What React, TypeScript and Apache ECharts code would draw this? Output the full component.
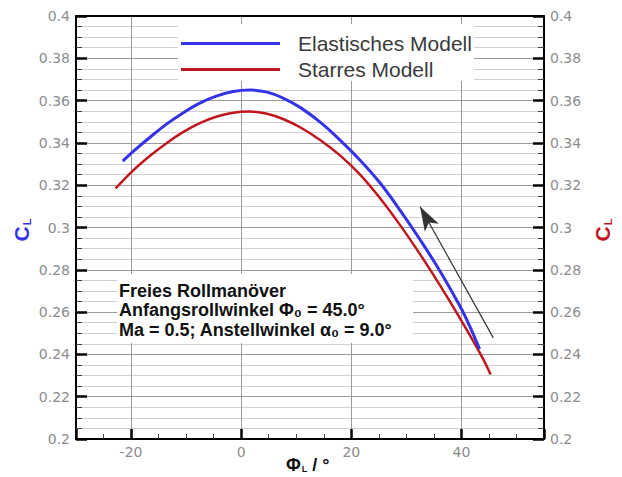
import React, { useEffect, useRef } from 'react';
import * as echarts from 'echarts';

// Roll angle Φ_L (°) and lift coefficient C_L
const phiElastic = [-21.5, -19.6, -16.5, -13.5, -10.5, -7.5, -4.4, -1.45, 1.6, 4.7, 7.6, 10.7, 14.4, 18.0, 21.6, 25.3, 28.9, 32.5, 36.2, 39.8, 41.6, 43.3];
const clElastic = [0.3314, 0.336, 0.3428, 0.349, 0.3543, 0.3588, 0.3622, 0.3643, 0.365, 0.364, 0.3612, 0.3568, 0.3497, 0.3412, 0.3318, 0.3208, 0.308, 0.2942, 0.279, 0.2625, 0.2528, 0.2425];

const phiRigid = [-22.8, -19.6, -16.5, -13.5, -10.5, -7.5, -4.4, -1.45, 1.6, 4.7, 7.6, 10.7, 14.4, 18.0, 21.6, 25.3, 28.9, 32.5, 36.2, 39.8, 43.5, 45.3];
const clRigid = [0.3185, 0.327, 0.334, 0.34, 0.3452, 0.3494, 0.3525, 0.3543, 0.3548, 0.3538, 0.3513, 0.3474, 0.3413, 0.334, 0.325, 0.3136, 0.301, 0.2873, 0.2723, 0.2568, 0.24, 0.2305];

const seriesNames = ['Elastisches Modell', 'Starres Modell'];
const xRange = [-30, 55];
const yRange = [0.2, 0.4];
const yInterval = 0.02;
const arrowFrom = [45.8, 0.2478];
const arrowTo = [32.5, 0.3098];
const noteLines = ['Freies Rollmanöver', 'Anfangsrollwinkel Φ₀ = 45.0°', 'Ma = 0.5; Anstellwinkel α₀ = 9.0°'];

const BLUE = '#3434e6';
const RED = '#c0161e';
const LABEL = { color: '#8c8c8c', fontSize: 14, fontFamily: 'DejaVu Sans' };

const fmtY = (v: number) => String(parseFloat(v.toFixed(3)));

export default function App() {
  const ref = useRef<HTMLDivElement>(null);
  useEffect(() => {
    if (!ref.current) return;
    const chart = echarts.init(ref.current, undefined, { renderer: 'svg' });
    const yAxisBase = {
      type: 'value',
      min: yRange[0],
      max: yRange[1],
      interval: yInterval,
      axisLine: { show: true, onZero: false, lineStyle: { color: '#000', width: 2 } },
      axisTick: { show: true, inside: true, length: 11, lineStyle: { color: '#000', width: 2.5 } },
      minorTick: { show: true, splitNumber: 4, length: 6, lineStyle: { color: '#444', width: 1 } },
      axisLabel: { ...LABEL, margin: 6, formatter: fmtY },
    };
    const cl = (color: string) => ({
      c: { fontSize: 21, fontWeight: 'bold', fontFamily: 'Liberation Sans', fill: color, color },
      l: { fontSize: 11, fontWeight: 'bold', fontFamily: 'Liberation Sans', fill: color, color, padding: [12, 0, 0, 1] },
    });
    const option: any = {
      animation: false,
      grid: { left: 76, right: 78, top: 16, bottom: 38, show: false },
      legend: {
        orient: 'vertical',
        left: 178,
        top: 24,
        padding: [9, 2, 1, 3],
        itemGap: 5,
        itemWidth: 99,
        itemHeight: 3,
        icon: 'rect',
        backgroundColor: '#fff',
        textStyle: { fontSize: 21, color: '#3a3a3a', fontFamily: 'Liberation Sans', lineHeight: 21, padding: [0, 0, 0, 13] },
        data: seriesNames,
      },
      xAxis: [
        {
          type: 'value',
          position: 'bottom',
          min: xRange[0],
          max: xRange[1],
          splitNumber: 4,
          axisLine: { show: true, onZero: false, lineStyle: { color: '#000', width: 2 } },
          axisTick: { show: true, inside: true, length: 10, lineStyle: { color: '#000', width: 2.5 } },
          minorTick: { show: true, splitNumber: 4, length: 5, lineStyle: { color: '#444', width: 1 } },
          axisLabel: { ...LABEL, margin: 6, showMinLabel: false, showMaxLabel: false },
          splitLine: { show: true, lineStyle: { color: '#9a9a9a', width: 1 } },
        },
        {
          type: 'value',
          position: 'top',
          min: xRange[0],
          max: xRange[1],
          axisLine: { show: true, onZero: false, lineStyle: { color: '#000', width: 2 } },
          axisTick: { show: false },
          axisLabel: { show: false },
          splitLine: { show: false },
        },
      ],
      yAxis: [
        {
          ...yAxisBase,
          position: 'left',
          splitLine: { show: true, lineStyle: { color: '#9a9a9a', width: 1 } },
          minorSplitLine: { show: true, lineStyle: { color: '#d0d0d0', width: 1 } },
        },
        {
          ...yAxisBase,
          position: 'right',
          splitLine: { show: false },
          minorSplitLine: { show: false },
        },
      ],
      series: [
        {
          name: seriesNames[0],
          type: 'line',
          xAxisIndex: 0,
          yAxisIndex: 0,
          data: phiElastic.map((x, i) => [x, clElastic[i]]),
          showSymbol: false,
          symbol: 'none',
          smooth: 0.4,
          z: 4,
          lineStyle: { color: BLUE, width: 3 },
          itemStyle: { color: BLUE },
          markLine: {
            silent: true,
            symbol: ['none', 'arrow'],
            symbolSize: [12, 24],
            label: { show: false },
            lineStyle: { color: '#333', width: 1.2, type: 'solid' },
            data: [[{ coord: arrowFrom }, { coord: arrowTo }]],
          },
        },
        {
          name: seriesNames[1],
          type: 'line',
          xAxisIndex: 0,
          yAxisIndex: 0,
          data: phiRigid.map((x, i) => [x, clRigid[i]]),
          showSymbol: false,
          symbol: 'none',
          smooth: 0.4,
          z: 3,
          lineStyle: { color: RED, width: 2.5 },
          itemStyle: { color: RED },
        },
      ],
      graphic: [
        {
          type: 'rect',
          z: 5,
          shape: { x: 117, y: 274, width: 296, height: 69 },
          style: { fill: '#fff' },
        },
        {
          type: 'text',
          z: 6,
          x: 119,
          y: 281,
          style: {
            text: noteLines.join('\n'),
            fontSize: 18,
            fontWeight: 'bold',
            fontFamily: 'Liberation Sans',
            lineHeight: 19.5,
            fill: '#111',
            textAlign: 'left',
            textVerticalAlign: 'top',
          },
        },
        {
          type: 'text',
          z: 6,
          x: 21,
          y: 230,
          rotation: Math.PI / 2,
          style: { text: '{c|C}{l|L}', textAlign: 'center', textVerticalAlign: 'middle', rich: cl(BLUE) },
        },
        {
          type: 'text',
          z: 6,
          x: 602,
          y: 230,
          rotation: Math.PI / 2,
          style: { text: '{c|C}{l|L}', textAlign: 'center', textVerticalAlign: 'middle', rich: cl(RED) },
        },
        {
          type: 'text',
          z: 6,
          x: 286,
          y: 465,
          style: {
            text: '{a|Φ}{s|L}{a| / °}',
            textAlign: 'left',
            textVerticalAlign: 'middle',
            rich: {
              a: { fontSize: 18, fontWeight: 'bold', fontFamily: 'Liberation Sans', fill: '#111', color: '#111' },
              s: { fontSize: 9, fontWeight: 'bold', fontFamily: 'Liberation Sans', fill: '#111', color: '#111', padding: [8, 0, 0, 1] },
            },
          },
        },
      ],
    };
    chart.setOption(option);
    return () => chart.dispose();
  }, []);
  return <div ref={ref} style={{ position: 'absolute', left: 0, top: 0, width: 622, height: 477 }} />;
}
